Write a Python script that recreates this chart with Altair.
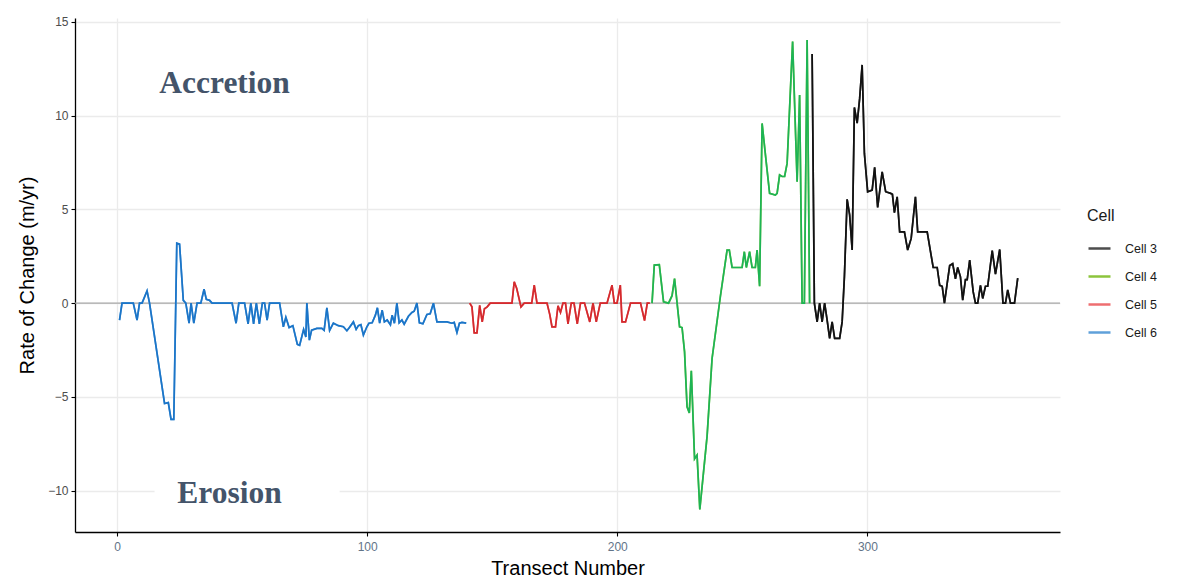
import altair as alt
import pandas as pd

# ---- data ----
cell6_t = [1, 2, 6.5, 8, 9, 10, 12, 13, 19, 20.5, 21.6, 22.7, 23.9, 25, 26.5, 27.5, 28.8, 29.6, 30.7, 32,
           33.5, 34.8, 35.7, 37, 38, 46, 47.6, 48.7, 51, 52.4, 53.5, 54.6, 55.7, 56.9, 58.1, 59, 60, 61, 63, 65,
           66.5, 67.5, 68.8, 70.3, 72.1, 73, 74.6, 75.5, 75.9, 76.9, 77.8, 79.9, 81.9, 82.8, 83.9, 85, 86.5, 88.5,
           90.5, 91.9, 92.9, 94.5, 95.6, 96.5, 97.5, 98.5, 99.9, 100.7, 102, 103.3, 104.1, 105, 106, 106.9, 108,
           109.3, 110, 110.9, 111.9, 112.8, 113.9, 114.8, 116.5, 117.9, 118.8, 119.9, 120.9, 122.3, 123.9, 125.2,
           126.5, 127.9, 129.9, 131.9, 133.9, 134.8, 135.9, 136.9, 137.9, 139.6]
cell6_v = [-0.9, 0, 0, -0.9, 0, 0, 0.65, 0, -5.35, -5.3, -6.2, -6.2, 3.2, 3.15, 0.15, 0, -1.07, 0, -1.07, 0,
           0, 0.74, 0.2, 0.15, 0, 0, -1.07, 0, 0, -1.1, 0, -1.1, 0, -1.1, 0, 0, -0.9, 0, 0, 0,
           -1.26, -0.75, -1.3, -1.2, -2.2, -2.25, -1.4, -1.8, 0, -1.97, -1.44, -1.35, -1.35, -1.45, -0.25, -1.45, -1.07, -1.2,
           -1.26, -1.47, -1.3, -1.0, -1.4, -1.2, -1.15, -1.7, -1.26, -1.07, -1.05, -0.64, -0.25, -1.07, -0.37, -1.0, -0.9,
           -1.15, -0.64, -1.07, 0, -1.05, -0.9, -1.12, -0.7, -0.5, -0.43, 0, -1.05, -1.1, -0.6, -0.57,
           0, -1.0, -1.0, -1.0, -1.07, -1.03, -1.57, -1.07, -1.03, -1.07]

cell5_t = [141, 141.9, 142.8, 143.9, 145, 146, 146.9, 148, 149.2, 157.9, 158.8, 159.8, 161.5, 162.8, 165.8,
           166.8, 167.9, 171.9, 173, 173.9, 175.3, 176.3, 177.3, 178.3, 179.3, 180.3, 181.6, 182.7, 184, 185.3,
           186.9, 189, 190.3, 191.6, 193.2, 195.9, 197.9, 198.8, 199.9, 201.2, 201.9, 203.3, 205.3, 209.3, 210.9,
           212, 213]
cell5_v = [0, -0.2, -1.58, -1.58, -0.12, -1.0, -0.3, -0.2, 0, 0, 1.14, 0.78, -0.2, 0, 0,
           0.96, 0, 0, -0.6, -1.26, -1.26, -0.14, -0.5, 0, 0, -1.1, 0, 0, -1.1, 0,
           0, -1.0, 0, -1.0, 0, 0, 0.96, 0, 0, 0.96, -1.0, -1.0, 0, 0, -0.93,
           0, 0]

cell4_t = [213.9, 214.8, 216.8, 218.5, 220.5, 221.9, 222.9, 224.9, 225.9, 226.9, 227.9, 228.8, 229.6, 230.9,
           231.9, 233, 235.9, 237.9, 241.2, 243.9, 244.8, 245.9, 249.2, 249.9, 250.8, 251.6, 252.9, 253.9,
           255.2, 255.9, 256.9, 257.9, 259.6, 260.9, 263.2, 263.9, 264.9, 265.9, 266.9, 267.9, 270.1, 271.9,
           272.9, 273.9, 274.8, 275.9, 276.9]
cell4_v = [0, 2.03, 2.05, 0.07, 0, 0.4, 1.31, -1.26, -1.3, -2.6, -5.53, -5.85, -3.6, -8.3,
           -8.1, -11.0, -7.1, -2.95, 0.34, 2.83, 2.83, 1.9, 1.9, 1.9, 2.74, 1.9, 2.74, 1.9,
           1.9, 2.83, 0.9, 9.58, 7.45, 5.85, 5.76, 5.85, 6.83, 6.75, 6.75, 7.45, 13.94, 6.47,
           11.1, 0, 0, 14.03, 0]

cell3_t = [277.9, 278.8, 279.9, 280.9, 281.9, 282.9, 283.9, 284.9, 285.9, 286.9, 288.9, 289.9, 290.8, 291.9,
           292.9, 293.9, 294.8, 295.9, 296.9, 297.9, 298.8, 300.1, 301.9, 302.9, 304.1, 305.9, 307.3, 309.3,
           310, 310.8, 311.9, 312.9, 314.8, 316.1, 317.5, 319.2, 320.1, 321.9, 323.9, 326.3, 327.9, 328.9,
           329.9, 330.8, 331.9, 332.9, 334.1, 335.2, 336.1, 337.2, 338.1, 339.2, 339.9, 340.9, 342.3, 343.2,
           344.1, 345.2, 346.1, 347.2, 348.1, 349.9, 351.2, 352.9, 354.2, 355.2, 356.1, 357.2, 358.8, 360.1]
cell3_v = [13.28, 0, -1.0, 0, -1.0, 0, -0.9, -1.88, -1.0, -1.88, -1.88, -1.0, 1.4, 5.53,
           4.7, 2.83, 10.43, 9.6, 10.9, 12.7, 7.98, 5.94, 6.03, 7.24, 5.1, 7.0, 5.94, 5.85,
           5.8, 4.82, 5.67, 3.8, 3.8, 2.83, 3.45, 5.67, 3.8, 3.8, 3.8, 1.9, 1.9, 0.95,
           0.9, 0, 1.05, 2.0, 2.1, 1.3, 1.9, 1.4, 0.16, 1.25, 1.25, 2.3, 0.6, 0,
           0, 0.95, 0.25, 0.9, 0.9, 2.8, 1.55, 2.86, 0, 0, 0.7, 0, 0, 1.33]

cells = ["Cell 3", "Cell 4", "Cell 5", "Cell 6"]
line_colors = ["#111111", "#1DB455", "#D42A2E", "#1B75C8"]
legend_colors = ["#4D4D4D", "#8CC43C", "#EE6E70", "#5FA0DA"]

annot_text = ["Accretion", "Erosion"]
annot_x = [43, 45]
annot_y = [11.7, -10.2]
erosion_box = {"x": [15], "x2": [89], "y": [-9.3], "y2": [-11.0]}

x_ticks = [0, 100, 200, 300]
y_ticks = [-10, -5, 0, 5, 10, 15]
x_domain = [-16.8, 377]
y_domain = [-12.2, 15.2]

rows = []
for name, ts, vs in [("Cell 6", cell6_t, cell6_v), ("Cell 5", cell5_t, cell5_v),
                     ("Cell 4", cell4_t, cell4_v), ("Cell 3", cell3_t, cell3_v)]:
    for t, v in zip(ts, vs):
        rows.append({"Cell": name, "t": t, "v": v})
df = pd.DataFrame(rows)

X = alt.X("t:Q", scale=alt.Scale(domain=x_domain, nice=False, zero=False),
          axis=alt.Axis(values=x_ticks, title="Transect Number", labelColor="#627488",
                        labelPadding=5, titlePadding=6))
Y = alt.Y("v:Q", scale=alt.Scale(domain=y_domain, nice=False),
          axis=alt.Axis(values=y_ticks, title="Rate of Change (m/yr)"))

base = alt.Chart(df)

zero = alt.Chart(pd.DataFrame({"y": [0]})).mark_rule(color="#A8A8A8", strokeWidth=1.3).encode(y=alt.Y("y:Q"))

box = alt.Chart(pd.DataFrame(erosion_box)).mark_rect(color="white").encode(
    x="x:Q", x2="x2:Q", y="y:Q", y2="y2:Q")

legend_layer = base.mark_line(strokeWidth=1.7).encode(
    x=X, y=Y, detail="Cell:N",
    color=alt.Color("Cell:N", scale=alt.Scale(domain=cells, range=legend_colors),
                    legend=alt.Legend(title="Cell", symbolType="stroke", symbolSize=484,
                                      symbolStrokeWidth=2.5, rowPadding=9, orient="none",
                                      legendX=1012, legendY=190, labelOffset=13,
                                      titleFontSize=16, labelFontSize=12.5,
                                      titleFontWeight="normal", labelColor="#1A1A1A",
                                      titleColor="#1A1A1A", titlePadding=12,
                                      labelFont="Liberation Sans", titleFont="Liberation Sans")))

lines = base.mark_line(strokeWidth=1.7).encode(
    x=X, y=Y,
    color=alt.Color("Cell:N", scale=alt.Scale(domain=cells, range=line_colors), legend=None))

text = alt.Chart(pd.DataFrame({"label": annot_text, "x": annot_x, "y": annot_y})).mark_text(
    font="Liberation Serif", fontSize=31.5, fontWeight="bold", color="#44546A").encode(
    x="x:Q", y="y:Q", text="label:N")

chart = alt.layer(zero, box, legend_layer, lines, text).resolve_scale(color="independent").properties(
    width=985, height=514,
    padding={"left": 9, "top": 7, "right": 5, "bottom": 0},
).configure_view(stroke=None).configure_axis(
    domainColor="#000000", domainWidth=1.3, tickColor="#000000", tickSize=4, tickWidth=1.1,
    gridColor="#EBEBEB", gridWidth=1.3, labelFont="Liberation Sans", labelFontSize=12,
    labelColor="#4D4D4D", titleFont="Liberation Sans", titleFontSize=20, titleFontWeight="normal",
    titleColor="#000000", labelPadding=3,
).configure_axisY(titlePadding=10)

chart.save("out.html", embed_options={"renderer": "svg", "actions": False})
